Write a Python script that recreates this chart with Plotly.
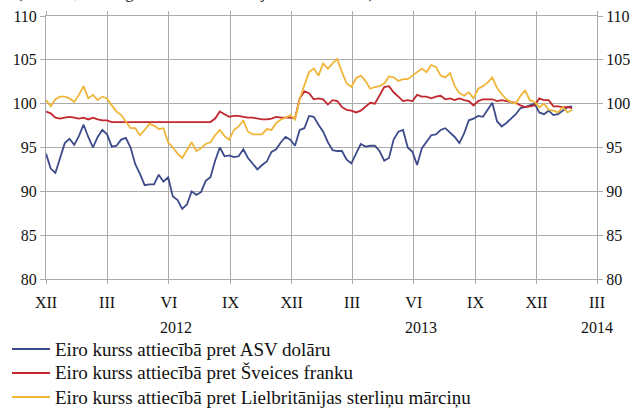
import pandas as pd
import plotly.graph_objects as go

# Weekly readings, starting 2011-12-01
start_date = "2011-12-01"
n_weeks = 113

usd = [94.3, 92.6, 92.1, 93.8, 95.5, 96.0, 95.3, 96.3, 97.6, 96.2,
       95.0, 96.2, 97.0, 96.5, 95.1, 95.2, 95.9, 96.1, 95.0, 93.1,
       92.0, 90.7, 90.8, 90.8, 91.9, 91.1, 91.6, 89.4, 89.0, 88.0,
       88.5, 90.0, 89.6, 89.9, 91.2, 91.6, 93.5, 95.0, 94.0, 94.1,
       93.9, 94.0, 94.8, 93.8, 93.2, 92.5, 93.0, 93.4, 94.5, 94.8,
       95.6, 96.2, 95.9, 95.2, 97.0, 97.2, 98.6, 98.5, 97.6, 96.8,
       95.6, 94.7, 94.6, 94.6, 93.6, 93.2, 94.3, 95.4, 95.1, 95.2,
       95.2, 94.6, 93.5, 93.8, 95.9, 96.8, 97.0, 95.0, 94.5, 93.0,
       94.9, 95.6, 96.4, 96.5, 97.0, 97.2, 96.7, 96.2, 95.5, 96.6,
       98.1, 98.3, 98.6, 98.5, 99.3, 100.1, 98.0, 97.4, 97.8, 98.3,
       98.8, 99.5, 99.6, 99.8, 100.0, 99.0, 98.8, 99.2, 98.7, 98.8,
       99.2, 99.6, 99.7]

chf = [99.1, 98.9, 98.4, 98.3, 98.4, 98.5, 98.4, 98.3, 98.4, 98.2,
       98.4, 98.2, 98.1, 98.1, 97.9, 97.9, 97.9, 97.9, 97.9, 97.9,
       97.9, 97.9, 97.9, 97.9, 97.9, 97.9, 97.9, 97.9, 97.9, 97.9,
       97.9, 97.9, 97.9, 97.9, 97.9, 97.9, 98.3, 99.1, 98.8, 98.5,
       98.6, 98.6, 98.5, 98.4, 98.4, 98.3, 98.2, 98.2, 98.3, 98.5,
       98.4, 98.4, 98.4, 98.3, 100.6, 101.4, 101.2, 100.5, 100.6, 100.5,
       99.9, 100.4, 100.3, 99.6, 99.3, 99.2, 99.0, 99.2, 99.6, 100.1,
       100.0, 101.0, 101.9, 102.0, 101.3, 100.8, 100.3, 100.4, 100.3, 101.0,
       100.8, 100.8, 100.6, 100.8, 100.9, 100.5, 100.6, 100.4, 100.6, 100.4,
       100.3, 99.8, 100.3, 100.5, 100.5, 100.5, 100.3, 100.4, 100.3, 100.2,
       100.1, 99.8, 99.6, 99.7, 99.8, 100.6, 100.4, 100.4, 99.7, 99.7,
       99.6, 99.6, 99.5]

gbp = [100.4, 99.7, 100.5, 100.8, 100.8, 100.6, 100.2, 101.0, 102.0, 100.6,
       101.0, 100.4, 100.8, 100.6, 99.8, 99.1, 98.7, 98.0, 97.2, 97.2,
       96.4, 97.0, 97.7, 97.5, 97.1, 97.2, 95.6, 95.0, 94.3, 93.8,
       94.7, 95.6, 94.6, 94.9, 95.4, 95.6, 96.4, 97.0, 96.3, 95.9,
       97.0, 97.4, 98.1, 96.8, 96.5, 96.5, 96.5, 97.1, 97.0, 97.8,
       98.2, 98.4, 98.7, 98.2, 100.5, 102.1, 103.6, 104.0, 103.2, 104.6,
       104.0, 104.6, 105.1, 103.6, 102.3, 101.9, 102.9, 103.2, 102.6, 101.7,
       101.9, 102.0, 102.3, 103.1, 103.0, 102.6, 102.8, 102.8, 103.2, 103.5,
       104.0, 103.6, 104.4, 104.2, 103.2, 103.0, 103.5, 102.0, 101.2, 100.9,
       101.3, 100.6, 101.7, 102.0, 102.4, 103.0, 101.8, 101.1, 100.5, 100.2,
       100.0, 100.9, 101.5, 100.4, 100.2, 99.6, 100.0, 99.3, 99.2, 99.0,
       99.6, 99.0, 99.3]

series_names = ["Eiro kurss attiecībā pret ASV dolāru",
                "Eiro kurss attiecībā pret Šveices franku",
                "Eiro kurss attiecībā pret Lielbritānijas sterliņu mārciņu"]
series_colors = ["#3D4B8B", "#C1272D", "#F0B63A"]

tick_dates = ["2011-12-01", "2012-03-01", "2012-06-01", "2012-09-01", "2012-12-01",
              "2013-03-01", "2013-06-01", "2013-09-01", "2013-12-01", "2014-03-01"]
tick_labels = ["XII", "III", "VI", "IX", "XII", "III", "VI", "IX", "XII", "III"]
year_labels = ["2012", "2013", "2014"]
year_dates = ["2012-06-12", "2013-06-12", "2014-03-01"]

dates = pd.date_range(start_date, periods=n_weeks, freq="7D")

FONT = "Liberation Serif"
GRID = "#ABABAB"
TICK_SIZE = 16
LEG_SIZE = 19

fig = go.Figure()
for name, vals, col in zip(series_names, [usd, chf, gbp], series_colors):
    fig.add_trace(go.Scatter(x=dates, y=vals, mode="lines", name=name,
                             showlegend=False,
                             line=dict(color=col, width=1.8)))
# dummy trace for right axis
fig.add_trace(go.Scatter(x=[dates[0]], y=[None], yaxis="y2", showlegend=False,
                         hoverinfo="skip", mode="lines"))

fig.update_layout(
    width=630, height=408,
    margin=dict(l=46, r=33, t=16, b=129, autoexpand=False),
    paper_bgcolor="white", plot_bgcolor="white",
    font=dict(family=FONT, size=TICK_SIZE, color="#111"),
    xaxis=dict(type="date", range=[tick_dates[0], tick_dates[-1]],
               tickmode="array", tickvals=tick_dates, ticktext=tick_labels,
               showgrid=True, gridcolor=GRID, gridwidth=1,
               showline=True, linecolor=GRID, linewidth=1, mirror="ticks",
               ticks="outside", ticklen=4, tickcolor=GRID,
               ticklabelstandoff=5, zeroline=False, automargin=False),
    yaxis=dict(range=[80, 110], dtick=5, showgrid=True, gridcolor=GRID,
               showline=True, linecolor=GRID, mirror=True,
               ticks="outside", ticklen=5, tickcolor=GRID, zeroline=False,
               automargin=False),
    yaxis2=dict(range=[80, 110], dtick=5, overlaying="y", side="right",
                showgrid=False, ticks="outside", ticklen=5, tickcolor=GRID,
                showline=False, zeroline=False, automargin=False),
    showlegend=False,
)

# legend drawn as keys + labels below the plot
legend_rows_y = [-0.2662, -0.3574, -0.4487]
for name, col, ly in zip(series_names, series_colors, legend_rows_y):
    fig.add_shape(type="line", xref="paper", yref="paper",
                  x0=-0.0617, x1=0.0073, y0=ly, y1=ly,
                  line=dict(color=col, width=1.8))
    fig.add_annotation(x=0.0125, xref="paper", y=ly, yref="paper", text=name,
                       showarrow=False, xanchor="left", yanchor="middle",
                       font=dict(family=FONT, size=LEG_SIZE, color="#111"))

for lab, d in zip(year_labels, year_dates):
    fig.add_annotation(x=d, xref="x", y=-0.185, yref="paper", text=lab,
                       showarrow=False, xanchor="center", yanchor="middle",
                       font=dict(family=FONT, size=TICK_SIZE, color="#111"))

fig.add_annotation(x=-0.0563, xref="paper", y=1, yref="paper", yshift=12,
                   text="(indekss; 2013. gada decembra vidējā vērtība = 100)",
                   showarrow=False, xanchor="left", yanchor="bottom",
                   font=dict(family=FONT, size=17, color="#111"))

fig.write_html("out.html", config={"displayModeBar": False},
               post_script="document.body.style.margin='0px';document.body.style.overflow='hidden';")
